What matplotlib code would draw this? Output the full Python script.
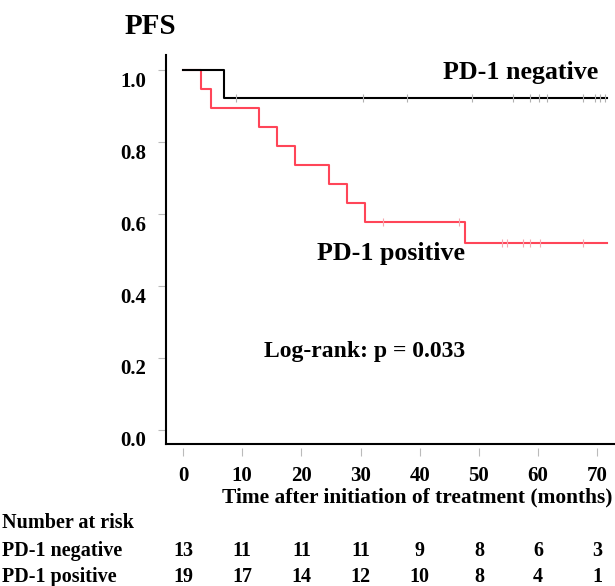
import numpy as np
import matplotlib.pyplot as plt
from matplotlib.transforms import ScaledTranslation, blended_transform_factory

plt.rcParams['font.family'] = ['Liberation Serif', 'DejaVu Serif']
plt.rcParams['font.weight'] = 'bold'

# survival curves (event time, survival after the event)
neg_event_times = [7.0]
neg_surv = [0.923]
neg_censor = [9.0, 30.5, 37.8, 48.8, 55.7, 58.6, 60.2, 61.5, 67.6, 69.6, 70.4, 71.3]

pos_event_times = [3.0, 4.8, 12.8, 15.9, 18.9, 24.7, 27.7, 30.7, 47.6]
pos_surv = [0.947, 0.895, 0.842, 0.789, 0.737, 0.684, 0.632, 0.579, 0.52]
pos_censor = [33.8, 46.6, 53.9, 54.7, 57.4, 58.6, 60.3, 67.6]

end_time = 71.6

x_ticks = [0, 10, 20, 30, 40, 50, 60, 70]
y_ticks = [0.0, 0.2, 0.4, 0.6, 0.8, 1.0]
risk_neg = [13, 11, 11, 11, 9, 8, 6, 3]
risk_pos = [19, 17, 14, 12, 10, 8, 4, 1]

RED = '#ff4558'


def step_xy(times, surv):
    xs = [0] + list(times) + [end_time]
    ys = [1.0] + list(surv) + [surv[-1]]
    return xs, ys


def surv_at(t, times, surv):
    s = 1.0
    for tt, ss in zip(times, surv):
        if t >= tt:
            s = ss
    return s


fig = plt.figure(figsize=(6.15, 5.86), dpi=100)
ax = fig.add_axes([166 / 615, 1 - 444 / 586, 1 - 166 / 615, (444 - 55) / 586])

xs, ys = step_xy(neg_event_times, neg_surv)
ax.plot(xs, ys, drawstyle='steps-post', color='black', lw=1.5, zorder=3)
xs, ys = step_xy(pos_event_times, pos_surv)
ax.plot(xs, ys, drawstyle='steps-post', color=RED, lw=1.5, zorder=2)

ax.plot(neg_censor, [surv_at(t, neg_event_times, neg_surv) for t in neg_censor],
        ls='none', marker='|', ms=6, mew=0.8, color='#b0b0b0', zorder=4)
ax.plot(pos_censor, [surv_at(t, pos_event_times, pos_surv) for t in pos_censor],
        ls='none', marker='|', ms=6, mew=0.8, color='#f4a8b0', zorder=4)

ax.set_xlim(-2.87, 73.0)
ax.set_ylim(-0.039, 1.042)

for side in ['top', 'right']:
    ax.spines[side].set_visible(False)
ax.spines['left'].set_linewidth(1.5)
ax.spines['bottom'].set_linewidth(1.5)

ax.set_xticks(x_ticks)
ax.set_yticks(y_ticks)
ax.set_yticklabels([f'{v:.1f}' for v in y_ticks])
ax.tick_params(axis='both', direction='out', length=6, width=0.8, color='#bbbbbb',
               labelsize=15)
ax.tick_params(axis='x', pad=10)
ax.tick_params(axis='y', pad=8)

# y labels sit a bit below their tick marks, x tick marks have a gap under the spine
off = ScaledTranslation(0, -9 / 100, fig.dpi_scale_trans)
for lab in ax.get_yticklabels():
    lab.set_transform(lab.get_transform() + off)
gap = ScaledTranslation(0, -4 / 100, fig.dpi_scale_trans)
for tick in ax.xaxis.get_major_ticks():
    tick.tick1line.set_transform(tick.tick1line.get_transform() + gap)

ax.text(70.1, 0.994, 'PD-1 negative', ha='right', va='center', fontsize=18.7)
ax.text(35.2, 0.489, 'PD-1 positive', ha='center', va='center', fontsize=18.7)
ax.text(30.6, 0.217, 'Log-rank: p = 0.033', ha='center', va='center', fontsize=17)

fig.text(150 / 615, 1 - 27 / 586, 'PFS', ha='center', va='center', fontsize=21)
fig.text(612 / 615, 1 - 497 / 586, 'Time after initiation of treatment (months)',
         ha='right', va='center', fontsize=15.4)

fig.text(2 / 615, 1 - 523 / 586, 'Number at risk', ha='left', va='center', fontsize=14.5)
fig.text(2 / 615, 1 - 551 / 586, 'PD-1 negative', ha='left', va='center', fontsize=14.5)
fig.text(2 / 615, 1 - 577 / 586, 'PD-1 positive', ha='left', va='center', fontsize=14.5)

trans = blended_transform_factory(ax.transData, fig.transFigure)
for t, n in zip(x_ticks, risk_neg):
    ax.text(t, 1 - 551 / 586, str(n), transform=trans, ha='center', va='center',
            fontsize=14.5, clip_on=False)
for t, n in zip(x_ticks, risk_pos):
    ax.text(t, 1 - 577 / 586, str(n), transform=trans, ha='center', va='center',
            fontsize=14.5, clip_on=False)

fig.savefig('out.png', dpi=100)
